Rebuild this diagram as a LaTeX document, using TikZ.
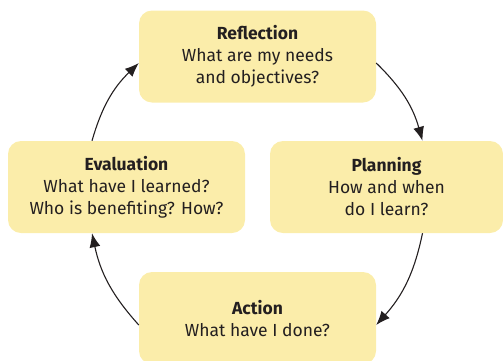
\documentclass[tikz,border=0pt]{standalone}
\usepackage{fontspec}
\setmainfont{Fira Sans}
\usetikzlibrary{arrows.meta}
\definecolor{boxfill}{HTML}{FBEDAA}
\definecolor{ink}{HTML}{231F20}
\tikzset{
  stage/.style={rectangle, rounded corners=13pt, fill=boxfill, draw=none,
    minimum width=237pt, minimum height=92pt, inner sep=0pt, align=center,
    text=ink, font=\fontsize{17.5}{22}\selectfont},
  flow/.style={draw=ink, line width=1.1pt, -{Latex[length=14pt,width=11pt]}}
}
\begin{document}
\begin{tikzpicture}[x=1pt,y=-1pt]
\useasboundingbox (0,0) rectangle (503,360);
\node[stage] (refl) at (257.5,56.5) {\textbf{Reflection}\\What are my needs\\and objectives?};
\node[stage] (eval) at (126.5,187) {\textbf{Evaluation}\\What have I learned?\\Who is benefiting? How?};
\node[stage, minimum width=233pt] (plan) at (386.5,187) {\textbf{Planning}\\How and when\\do I learn?};
\node[stage] (act) at (257.5,318) {\textbf{Action}\\What have I done?};
\draw[flow] ([yshift=-6.5pt]refl.east) to[bend left=15] ([xshift=36pt]plan.north);
\draw[flow] ([xshift=36pt]plan.south) to[bend left=15] ([yshift=-7pt]act.east);
\draw[flow] ([yshift=-7pt]act.west) to[bend left=15] ([xshift=-34.5pt]eval.south);
\draw[flow] ([xshift=-34.5pt]eval.north) to[bend left=15] ([yshift=-6.5pt]refl.west);
\end{tikzpicture}
\end{document}
